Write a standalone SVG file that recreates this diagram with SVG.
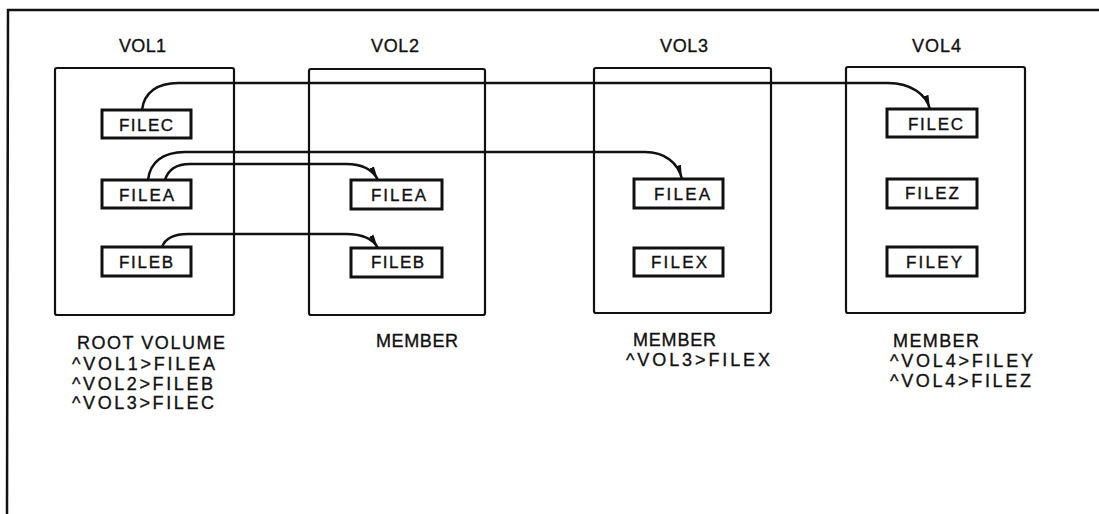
<svg xmlns="http://www.w3.org/2000/svg" width="1099" height="514" viewBox="0 0 1099 514">
<defs>
<style>
.vol{fill:none;stroke:#111;stroke-width:2.2}
.file{fill:#fff;stroke:#111;stroke-width:3}
.frame{fill:none;stroke:#111;stroke-width:2.5}
.conn{fill:none;stroke:#111;stroke-width:2.5;marker-end:url(#arr)}
.t{font-family:"Liberation Sans",Arial,sans-serif;fill:#111;stroke:#111;stroke-width:0.35}
.vl{font-size:18px}
.fl{font-size:17px}
.cap{font-size:18px}
</style>
<marker id="arr" viewBox="0 0 14 6" refX="14" refY="3" markerWidth="14" markerHeight="6" markerUnits="userSpaceOnUse" orient="auto">
<path d="M0,0.6 L14,3 L0,5.4 z" fill="#111"/>
</marker>
</defs>
<rect width="1099" height="514" fill="#fff"/>
<path class="frame" d="M7,514 L8,10 L1099,10"/>

<g id="vol1">
<text class="t vl" x="119" y="52" textLength="47">VOL1</text>
<rect class="vol" x="55" y="68" width="179" height="247" rx="2"/>
<g id="vol1-filec"><rect class="file" x="102" y="110" width="89" height="28"/><text class="t fl" x="119" y="131" textLength="54">FILEC</text></g>
<g id="vol1-filea"><rect class="file" x="102" y="180" width="89" height="28"/><text class="t fl" x="119" y="201" textLength="55">FILEA</text></g>
<g id="vol1-fileb"><rect class="file" x="102" y="247" width="89" height="29"/><text class="t fl" x="119" y="268" textLength="54">FILEB</text></g>
<text class="t cap" x="77" y="349" textLength="148">ROOT VOLUME</text>
<text class="t cap" x="72" y="370" textLength="143">^VOL1&gt;FILEA</text>
<text class="t cap" x="72" y="390" textLength="141">^VOL2&gt;FILEB</text>
<text class="t cap" x="72" y="409" textLength="142">^VOL3&gt;FILEC</text>
</g>

<g id="vol2">
<text class="t vl" x="371" y="52" textLength="48">VOL2</text>
<rect class="vol" x="309" y="69" width="176" height="246" rx="2"/>
<g id="vol2-filea"><rect class="file" x="351" y="180" width="91" height="29"/><text class="t fl" x="371" y="201" textLength="55">FILEA</text></g>
<g id="vol2-fileb"><rect class="file" x="351" y="248" width="91" height="29"/><text class="t fl" x="371" y="268" textLength="53">FILEB</text></g>
<text class="t cap" x="376" y="347" textLength="82">MEMBER</text>
</g>

<g id="vol3">
<text class="t vl" x="660" y="52" textLength="48">VOL3</text>
<rect class="vol" x="594" y="68" width="177" height="245" rx="2"/>
<g id="vol3-filea"><rect class="file" x="634" y="179" width="89" height="29"/><text class="t fl" x="654" y="200" textLength="56">FILEA</text></g>
<g id="vol3-filex"><rect class="file" x="634" y="248" width="89" height="28"/><text class="t fl" x="651" y="268" textLength="56">FILEX</text></g>
<text class="t cap" x="633" y="346" textLength="83">MEMBER</text>
<text class="t cap" x="626" y="366" textLength="144">^VOL3&gt;FILEX</text>
</g>

<g id="vol4">
<text class="t vl" x="912" y="52" textLength="49">VOL4</text>
<rect class="vol" x="846" y="67" width="179" height="246" rx="2"/>
<g id="vol4-filec"><rect class="file" x="887" y="109" width="90" height="28"/><text class="t fl" x="908" y="130" textLength="55">FILEC</text></g>
<g id="vol4-filez"><rect class="file" x="887" y="179" width="90" height="29"/><text class="t fl" x="905" y="199" textLength="54">FILEZ</text></g>
<g id="vol4-filey"><rect class="file" x="887" y="247" width="90" height="29"/><text class="t fl" x="906" y="268" textLength="56">FILEY</text></g>
<text class="t cap" x="893" y="347" textLength="86">MEMBER</text>
<text class="t cap" x="890" y="367" textLength="143">^VOL4&gt;FILEY</text>
<text class="t cap" x="890" y="387" textLength="141">^VOL4&gt;FILEZ</text>
</g>

<g id="connectors">
<path class="conn" d="M142,110 C144,92 158,83 178,83 L888,83 C912,83 926,95 930,109"/>
<path class="conn" d="M148,180 C150,162 163,152 185,152 L645,152 C665,152 678,163 682,179"/>
<path class="conn" d="M165,180 C168,170 176,164 190,164 L346,164 C362,164 373,170 378,180"/>
<path class="conn" d="M162,247 C165,239 174,234 188,234 L346,234 C362,234 373,239 378,248"/>
</g>
</svg>
